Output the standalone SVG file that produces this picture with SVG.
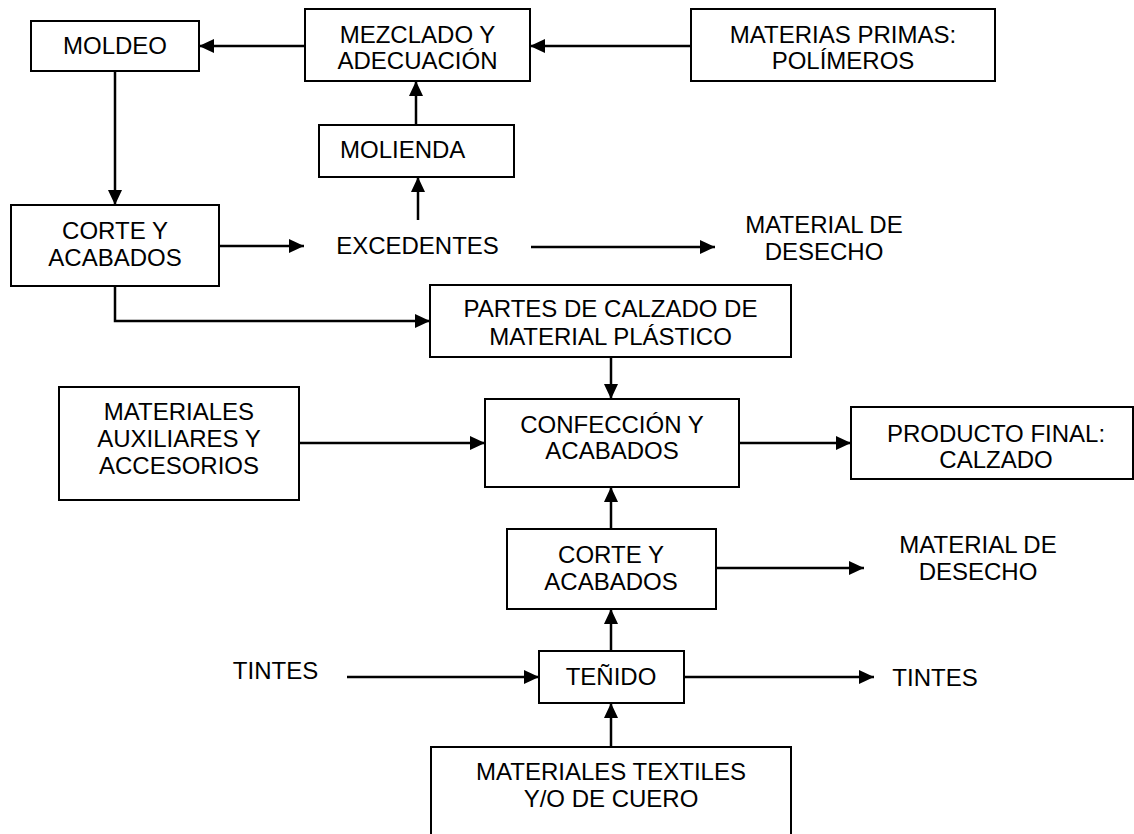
<svg xmlns="http://www.w3.org/2000/svg" width="1134" height="834" viewBox="0 0 1134 834">
<style>
.box{fill:#fff;stroke:#000;stroke-width:2}
.t{font-family:"Liberation Sans",Arial,sans-serif;font-size:24px;fill:#000;text-anchor:middle}
.c{fill:none;stroke:#000;stroke-width:2.5}
</style>
<defs>
<marker id="ah" markerUnits="userSpaceOnUse" markerWidth="16" markerHeight="14" refX="15" refY="7" orient="auto">
<path d="M0,0 L15,7 L0,14 z" fill="#000"/>
</marker>
</defs>
<rect width="1134" height="834" fill="#fff"/>
<g id="moldeo"><rect class="box" x="31" y="21" width="168" height="50"/><text class="t" x="115" y="54">MOLDEO</text></g>
<g id="mezclado"><rect class="box" x="305" y="9" width="225" height="72"/><text class="t" x="417.5" y="43">MEZCLADO Y</text><text class="t" x="417.5" y="69">ADECUACIÓN</text></g>
<g id="materias"><rect class="box" x="691" y="9" width="304" height="72"/><text class="t" x="843" y="43">MATERIAS PRIMAS:</text><text class="t" x="843" y="69">POLÍMEROS</text></g>
<g id="molienda"><rect class="box" x="319" y="125" width="195" height="52"/><text class="t" x="340" y="158" style="text-anchor:start">MOLIENDA</text></g>
<g id="corte1"><rect class="box" x="11" y="205" width="208" height="81"/><text class="t" x="115" y="239">CORTE Y</text><text class="t" x="115" y="266">ACABADOS</text></g>
<g id="excedentes"><text class="t" x="417.5" y="254">EXCEDENTES</text></g>
<g id="desecho1"><text class="t" x="824" y="233">MATERIAL DE</text><text class="t" x="824" y="260">DESECHO</text></g>
<g id="partes"><rect class="box" x="430" y="285" width="361" height="72"/><text class="t" x="610.5" y="317">PARTES DE CALZADO DE</text><text class="t" x="610.5" y="345">MATERIAL PLÁSTICO</text></g>
<g id="auxiliares"><rect class="box" x="59" y="387" width="240" height="113"/><text class="t" x="179" y="420">MATERIALES</text><text class="t" x="179" y="447">AUXILIARES Y</text><text class="t" x="179" y="474">ACCESORIOS</text></g>
<g id="confeccion"><rect class="box" x="485" y="399" width="254" height="88"/><text class="t" x="612" y="433">CONFECCIÓN Y</text><text class="t" x="612" y="459">ACABADOS</text></g>
<g id="producto"><rect class="box" x="851" y="407" width="282" height="72"/><text class="t" x="996" y="442">PRODUCTO FINAL:</text><text class="t" x="996" y="468">CALZADO</text></g>
<g id="corte2"><rect class="box" x="507" y="529" width="209" height="80"/><text class="t" x="611" y="563">CORTE Y</text><text class="t" x="611" y="590">ACABADOS</text></g>
<g id="desecho2"><text class="t" x="978" y="553">MATERIAL DE</text><text class="t" x="978" y="580">DESECHO</text></g>
<g id="tintes-in"><text class="t" x="275.5" y="679">TINTES</text></g>
<g id="tenido"><rect class="box" x="539" y="651" width="145" height="52"/><text class="t" x="611" y="685">TEÑIDO</text></g>
<g id="tintes-out"><text class="t" x="935" y="686">TINTES</text></g>
<g id="textiles"><rect class="box" x="431" y="747" width="360" height="100"/><text class="t" x="611" y="780">MATERIALES TEXTILES</text><text class="t" x="611" y="807">Y/O DE CUERO</text></g>
<g id="connectors">
<path class="c" d="M305,46 H199" marker-end="url(#ah)"/>
<path class="c" d="M691,46 H530" marker-end="url(#ah)"/>
<path class="c" d="M416,125 V81" marker-end="url(#ah)"/>
<path class="c" d="M418,220 V177" marker-end="url(#ah)"/>
<path class="c" d="M115,71 V205" marker-end="url(#ah)"/>
<path class="c" d="M219,246 H304" marker-end="url(#ah)"/>
<path class="c" d="M531,247 H715" marker-end="url(#ah)"/>
<path class="c" d="M115,286 V321 H430" marker-end="url(#ah)"/>
<path class="c" d="M611,357 V399" marker-end="url(#ah)"/>
<path class="c" d="M299,443 H485" marker-end="url(#ah)"/>
<path class="c" d="M739,443 H851" marker-end="url(#ah)"/>
<path class="c" d="M611,529 V487" marker-end="url(#ah)"/>
<path class="c" d="M716,568 H864" marker-end="url(#ah)"/>
<path class="c" d="M611,651 V609" marker-end="url(#ah)"/>
<path class="c" d="M347,677 H539" marker-end="url(#ah)"/>
<path class="c" d="M684,677 H874" marker-end="url(#ah)"/>
<path class="c" d="M611,747 V703" marker-end="url(#ah)"/>
</g>
</svg>
